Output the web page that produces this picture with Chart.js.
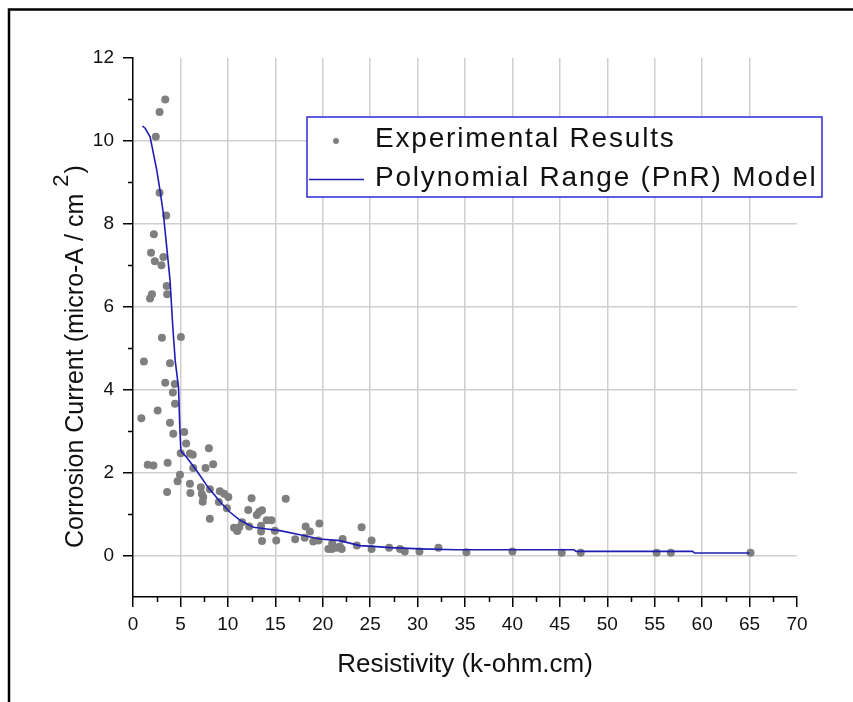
<!DOCTYPE html>
<html>
<head>
<meta charset="utf-8">
<script src="https://cdn.jsdelivr.net/npm/chart.js@4.4.1/dist/chart.umd.min.js"></script>
<style>
  html, body { margin: 0; padding: 0; background: #fff; }
  #wrap { width: 853px; height: 702px; }
</style>
</head>
<body>
<div id="wrap"><canvas id="myChart" width="853" height="702"></canvas></div>
<script>
// --- Values ---
const expX = [3.4, 2.8, 2.4, 2.8, 3.5, 2.2, 1.9, 3.2, 2.3, 3.0, 3.55, 3.6, 2.0, 1.8,
  3.05, 5.05, 1.15, 3.9, 3.4, 4.4, 4.2, 4.43, 2.6, 0.88, 3.9, 4.25, 5.4, 5.6, 8.0,
  5.03, 6.0, 6.3, 3.65, 1.55, 2.15, 6.35, 7.65, 8.45, 4.95, 4.7, 6.0, 3.6, 6.05,
  7.15, 7.25, 7.4, 7.35, 8.1, 8.1, 9.15, 9.6, 10.05, 9.05, 9.9, 10.65, 11.0, 11.2,
  11.5, 12.15, 12.5, 12.25, 13.05, 13.3, 13.6, 13.6, 13.5, 13.5, 14.1, 14.6, 14.95,
  15.1, 16.1, 17.1, 18.2, 18.65, 18.1, 19.0, 19.65, 19.55, 20.6, 20.95, 21.0, 21.45,
  21.8, 22.1, 22.0, 23.6, 24.1, 25.15, 25.15, 27.0, 28.15, 28.65, 30.2, 32.2, 35.15,
  40.0, 45.2, 47.2, 55.2, 56.7, 65.1];
const expY = [11.0, 10.7, 10.1, 8.75, 8.2, 7.75, 7.3, 7.2, 7.1, 7.0, 6.5, 6.3, 6.3, 6.2,
  5.25, 5.27, 4.68, 4.64, 4.17, 4.14, 3.93, 3.66, 3.5, 3.31, 3.2, 2.94, 2.98, 2.7, 2.59,
  2.47, 2.46, 2.43, 2.24, 2.19, 2.17, 2.11, 2.11, 2.2, 1.95, 1.79, 1.73, 1.53, 1.51,
  1.65, 1.49, 1.41, 1.3, 1.6, 0.89, 1.55, 1.49, 1.41, 1.29, 1.14, 0.67, 0.59, 0.68,
  0.8, 1.1, 1.38, 0.7, 0.98, 1.05, 1.09, 0.35, 0.72, 0.58, 0.85, 0.85, 0.6,
  0.36, 1.37, 0.39, 0.7, 0.58, 0.43, 0.34, 0.77, 0.36, 0.16, 0.16, 0.29, 0.19,
  0.22, 0.4, 0.16, 0.24, 0.68, 0.36, 0.16, 0.19, 0.16, 0.1, 0.1, 0.19, 0.08,
  0.1, 0.07, 0.07, 0.07, 0.07, 0.07];

const modelX = [1.0, 1.3, 1.8, 2.15, 2.5, 2.85, 3.2, 3.55, 3.9, 4.2, 4.45, 4.8, 4.95, 5.05,
  5.65, 6.7, 7.9, 9.2, 10.2, 11.3, 12.7, 14.1, 15.5, 17.6, 19.7, 21.8, 23.9, 25.3, 27.1,
  30.3, 34.1, 46.5, 46.7, 59.0, 59.2, 65.0];
const modelY = [10.36, 10.3, 10.1, 9.7, 9.3, 8.8, 8.25, 7.45, 6.65, 5.5, 4.7, 4.05, 3.0, 2.52,
  2.37, 2.05, 1.65, 1.29, 1.05, 0.85, 0.68, 0.64, 0.6, 0.5, 0.4, 0.36, 0.24, 0.22, 0.19,
  0.16, 0.14, 0.14, 0.1, 0.1, 0.06, 0.06];

const xTicks = [0, 5, 10, 15, 20, 25, 30, 35, 40, 45, 50, 55, 60, 65, 70];
const xMinor = [2.5, 7.5, 12.5, 17.5, 22.5, 27.5, 32.5, 37.5, 42.5, 47.5, 52.5, 57.5, 62.5, 67.5];
const yTicks = [0, 2, 4, 6, 8, 10, 12];
const yMinor = [1, 3, 5, 7, 9, 11];

const FONT = '"Liberation Sans", Arial, sans-serif';
const GRID = '#cfcfcf';

// white page + frame lines at top and left
const framePlugin = {
    id: 'frame',
    beforeDraw(chart) {
        const { ctx, width, height } = chart;
        ctx.save();
        ctx.fillStyle = '#fff';
        ctx.fillRect(0, 0, width, height);
        ctx.strokeStyle = '#000';
        ctx.lineWidth = 2.5;
        ctx.beginPath();
        ctx.moveTo(9, height);
        ctx.lineTo(9, 9.5);
        ctx.lineTo(width, 9.5);
        ctx.stroke();
        ctx.restore();
    }
};

// minor tick marks between the labelled ones
const minorTicksPlugin = {
    id: 'minorTicks',
    afterDraw(chart) {
        const { ctx, chartArea, scales } = chart;
        ctx.save();
        ctx.strokeStyle = '#000';
        ctx.lineWidth = 1.5;
        ctx.beginPath();
        xMinor.forEach(v => {
            const px = Math.round(scales.x.getPixelForValue(v)) + 0.5;
            ctx.moveTo(px, chartArea.bottom);
            ctx.lineTo(px, chartArea.bottom + 5);
        });
        yMinor.forEach(v => {
            const py = Math.round(scales.y.getPixelForValue(v)) + 0.5;
            ctx.moveTo(chartArea.left, py);
            ctx.lineTo(chartArea.left - 5, py);
        });
        ctx.stroke();
        ctx.restore();
    }
};

// y title with a raised "2"
const yTitlePlugin = {
    id: 'yTitle',
    afterDraw(chart) {
        const { ctx, chartArea } = chart;
        ctx.save();
        ctx.translate(83, chartArea.bottom - 49);
        ctx.rotate(-Math.PI / 2);
        ctx.fillStyle = '#111';
        ctx.textAlign = 'left';
        ctx.textBaseline = 'alphabetic';
        const main = 'Corrosion Current (micro-A / cm ';
        ctx.font = '25px ' + FONT;
        ctx.fillText(main, 0, 0);
        let w = ctx.measureText(main).width;
        ctx.font = '22px ' + FONT;
        ctx.fillText('2', w, -15);
        w += ctx.measureText('2').width + 1;
        ctx.font = '25px ' + FONT;
        ctx.fillText(')', w, 0);
        ctx.restore();
    }
};

// boxed legend inside the plot
const legendBoxPlugin = {
    id: 'legendBox',
    afterDraw(chart) {
        const { ctx } = chart;
        const sets = chart.data.datasets;
        ctx.save();
        ctx.fillStyle = '#fff';
        ctx.fillRect(307, 117, 515, 80);
        ctx.strokeStyle = '#2b2bd0';
        ctx.lineWidth = 1.5;
        ctx.strokeRect(307, 117, 515, 80);

        // scatter symbol
        ctx.fillStyle = sets[0].backgroundColor;
        ctx.beginPath();
        ctx.arc(336, 141, 3, 0, Math.PI * 2);
        ctx.fill();
        // line symbol
        ctx.strokeStyle = sets[1].borderColor;
        ctx.lineWidth = 1.6;
        ctx.beginPath();
        ctx.moveTo(309, 179.5);
        ctx.lineTo(364, 179.5);
        ctx.stroke();

        ctx.fillStyle = '#111';
        ctx.font = '28px ' + FONT;
        ctx.letterSpacing = '1.8px';
        ctx.textAlign = 'left';
        ctx.textBaseline = 'alphabetic';
        ctx.fillText(sets[0].label, 375, 147);
        ctx.fillText(sets[1].label, 375, 186);
        ctx.restore();
    }
};

const ctx = document.getElementById('myChart');

const myChart = new Chart(ctx, {
    type: 'scatter',
    data: {
        datasets: [{
            label: 'Experimental Results',
            data: expX.map((x, i) => ({ x: x, y: expY[i] })),
            backgroundColor: '#7f7f7f',
            borderWidth: 0,
            pointRadius: 4,
            order: 2
        }, {
            type: 'line',
            label: 'Polynomial Range (PnR) Model',
            data: modelX.map((x, i) => ({ x: x, y: modelY[i] })),
            borderColor: '#1e1eb4',
            borderWidth: 1.6,
            pointRadius: 0,
            tension: 0,
            fill: false,
            order: 1
        }]
    },
    options: {
        responsive: false,
        animation: false,
        events: [],
        layout: { padding: { left: 0, top: 58, right: 56, bottom: 0 } },
        plugins: {
            legend: { display: false },
            tooltip: { enabled: false }
        },
        scales: {
            x: {
                type: 'linear',
                min: 0,
                max: 70,
                afterBuildTicks: scale => { scale.ticks = xTicks.map(v => ({ value: v })); },
                afterFit: scale => { scale.height = 105; },
                border: { color: '#000', width: 1.5 },
                grid: {
                    color: c => (c.tick && c.tick.value > 0 && c.tick.value < 70) ? GRID : 'rgba(0,0,0,0)',
                    lineWidth: 1.5,
                    tickColor: '#000',
                    tickWidth: 1.5,
                    tickLength: 10
                },
                ticks: {
                    color: '#111',
                    font: { family: FONT, size: 19 },
                    padding: 6,
                    maxRotation: 0
                },
                title: {
                    display: true,
                    text: 'Resistivity (k-ohm.cm)',
                    color: '#111',
                    font: { family: FONT, size: 26 },
                    padding: { top: 0, bottom: 22 }
                }
            },
            y: {
                type: 'linear',
                min: -1,
                max: 12,
                afterBuildTicks: scale => { scale.ticks = yTicks.map(v => ({ value: v })); },
                afterFit: scale => { scale.width = 133; },
                border: { color: '#000', width: 1.5 },
                grid: {
                    color: c => (c.tick && c.tick.value < 12) ? GRID : 'rgba(0,0,0,0)',
                    lineWidth: 1.5,
                    tickColor: '#000',
                    tickWidth: 1.5,
                    tickLength: 10
                },
                ticks: {
                    color: '#111',
                    font: { family: FONT, size: 19 },
                    padding: 9
                }
            }
        }
    },
    plugins: [framePlugin, minorTicksPlugin, yTitlePlugin, legendBoxPlugin]
});
</script>
</body>
</html>
